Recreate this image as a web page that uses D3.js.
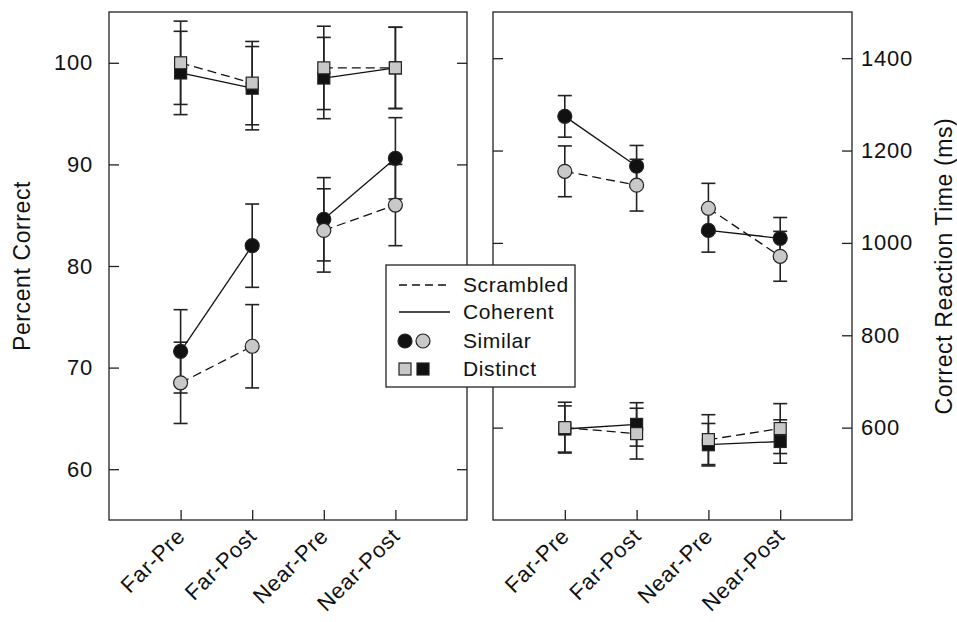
<!DOCTYPE html>
<html>
<head>
<meta charset="utf-8">
<script src="https://cdn.jsdelivr.net/npm/d3@7"></script>
<style>
    body { margin: 0; background: #fff; }
    svg { display: block; font-family: 'Liberation Sans', Arial, sans-serif; }
</style>
</head>
<body>
<svg width="957" height="622"></svg>
<script>
const conditions = ['Far-Pre', 'Far-Post', 'Near-Pre', 'Near-Post'];

// ---- Percent correct (left panel)
const pcSimilarScrambled = [68.5, 72.1, 83.5, 86.0];
const pcSimilarScrambledErr = [4.0, 4.1, 4.1, 4.0];
const pcSimilarCoherent = [71.6, 82.0, 84.6, 90.6];
const pcSimilarCoherentErr = [4.1, 4.1, 4.1, 4.0];
const pcDistinctScrambled = [100.0, 98.0, 99.5, 99.5];
const pcDistinctScrambledErr = [4.1, 4.1, 4.1, 4.0];
const pcDistinctCoherent = [99.0, 97.5, 98.5, 99.5];
const pcDistinctCoherentErr = [4.1, 4.1, 4.0, 4.0];

// ---- Correct reaction time, ms (right panel)
const rtSimilarScrambled = [1155, 1125, 1075, 971];
const rtSimilarScrambledErr = [55, 56, 54, 54];
const rtSimilarCoherent = [1274, 1166, 1027, 1010];
const rtSimilarCoherentErr = [45, 45, 47, 45];
const rtDistinctScrambled = [600, 587, 574, 598];
const rtDistinctScrambledErr = [55, 55, 54, 54];
const rtDistinctCoherent = [597, 607, 563, 570];
const rtDistinctCoherentErr = [50, 47, 46, 47];

const pcTicks = [60, 70, 80, 90, 100];
const rtTicks = [600, 800, 1000, 1200, 1400];

const GRAY = '#c8c8c8';
const BLACK = '#111';

const svg = d3.select('svg');
const plotTop = 12, plotBottom = 520;

function series(values, errs, shape, fill, dashed) {
    return { shape, fill, dashed, points: values.map((v, i) => ({ c: conditions[i], v, e: errs[i] })) };
}

// coherent first so scrambled markers end up on top
const panels = [
    {
        left: 109, right: 467,
        domain: [55, 105], ticks: pcTicks, labelSide: 'left',
        title: 'Percent Correct',
        series: [
            series(pcSimilarCoherent, pcSimilarCoherentErr, 'circle', BLACK, false),
            series(pcDistinctCoherent, pcDistinctCoherentErr, 'square', BLACK, false),
            series(pcSimilarScrambled, pcSimilarScrambledErr, 'circle', GRAY, true),
            series(pcDistinctScrambled, pcDistinctScrambledErr, 'square', GRAY, true)
        ]
    },
    {
        left: 493, right: 852,
        domain: [400, 1500], ticks: rtTicks, labelSide: 'right',
        title: 'Correct Reaction Time (ms)',
        series: [
            series(rtSimilarCoherent, rtSimilarCoherentErr, 'circle', BLACK, false),
            series(rtDistinctCoherent, rtDistinctCoherentErr, 'square', BLACK, false),
            series(rtSimilarScrambled, rtSimilarScrambledErr, 'circle', GRAY, true),
            series(rtDistinctScrambled, rtDistinctScrambledErr, 'square', GRAY, true)
        ]
    }
];

function drawMarker(sel, shape, fill, x, y) {
    if (shape === 'circle') {
        sel.append('circle')
            .attr('cx', x).attr('cy', y).attr('r', 7)
            .attr('fill', fill).attr('stroke', '#222').attr('stroke-width', 1.2);
    } else {
        sel.append('rect')
            .attr('x', x - 6).attr('y', y - 6).attr('width', 12).attr('height', 12)
            .attr('fill', fill).attr('stroke', '#222').attr('stroke-width', 1.2);
    }
}

panels.forEach(p => {
    const x = d3.scalePoint().domain(conditions).range([p.left, p.right]).padding(1);
    const y = d3.scaleLinear().domain(p.domain).range([plotBottom, plotTop]);
    const g = svg.append('g');

    // ---- Eixos (ticks pointing inward on all sides)
    const leftAxis = d3.axisLeft(y).tickValues(p.ticks).tickSize(-10).tickSizeOuter(0)
        .tickPadding(16).tickFormat(d3.format('d'));
    const rightAxis = d3.axisRight(y).tickValues(p.ticks).tickSize(-10).tickSizeOuter(0)
        .tickPadding(9).tickFormat(d3.format('d'));
    if (p.labelSide === 'left') rightAxis.tickFormat('');
    else leftAxis.tickFormat('');

    const yAxes = g.append('g');
    yAxes.append('g').attr('transform', `translate(${p.left},0)`).call(leftAxis);
    yAxes.append('g').attr('transform', `translate(${p.right},0)`).call(rightAxis);
    yAxes.selectAll('.tick text').attr('font-size', '22px').attr('letter-spacing', '0.8px');

    const xAxis = g.append('g')
        .attr('transform', `translate(0,${plotBottom})`)
        .call(d3.axisBottom(x).tickSize(-10).tickSizeOuter(0));

    xAxis.selectAll('text')
        .attr('text-anchor', 'end')
        .attr('y', 0).attr('dy', '0.35em')
        .attr('font-size', '22px')
        .attr('letter-spacing', '0.8px')
        .attr('transform', `translate(0,12) rotate(-45)`);

    g.selectAll('.domain').remove();
    g.selectAll('.tick line').attr('stroke', '#222').attr('stroke-width', 1.3);
    g.selectAll('.tick text').attr('fill', '#111');

    // frame
    g.append('rect')
        .attr('x', p.left).attr('y', plotTop)
        .attr('width', p.right - p.left).attr('height', plotBottom - plotTop)
        .attr('fill', 'none').attr('stroke', '#222').attr('stroke-width', 1.3);

    // axis title
    const tx = p.labelSide === 'left' ? 22 : 944;
    g.append('text')
        .attr('transform', `translate(${tx},${(plotTop + plotBottom) / 2}) rotate(-90)`)
        .attr('text-anchor', 'middle')
        .attr('dy', '0.35em')
        .attr('font-size', '23px')
        .attr('letter-spacing', '0.6px')
        .attr('fill', '#111')
        .text(p.title);

    // error bars
    p.series.forEach(s => {
        s.points.forEach(d => {
            const cx = x(d.c), y1 = y(d.v + d.e), y2 = y(d.v - d.e);
            g.append('line').attr('x1', cx).attr('x2', cx).attr('y1', y1).attr('y2', y2)
                .attr('stroke', '#222').attr('stroke-width', 1.6);
            [y1, y2].forEach(cy => {
                g.append('line').attr('x1', cx - 7).attr('x2', cx + 7).attr('y1', cy).attr('y2', cy)
                    .attr('stroke', '#222').attr('stroke-width', 1.6);
            });
        });
    });

    // lines: Far pair and Near pair are joined separately
    const line = d3.line().x(d => x(d.c)).y(d => y(d.v));
    p.series.forEach(s => {
        [s.points.slice(0, 2), s.points.slice(2, 4)].forEach(seg => {
            g.append('path')
                .datum(seg)
                .attr('d', line)
                .attr('fill', 'none')
                .attr('stroke', '#111')
                .attr('stroke-width', 1.3)
                .attr('stroke-dasharray', s.dashed ? '9,5' : null);
        });
    });

    // markers
    p.series.forEach(s => {
        s.points.forEach(d => drawMarker(g, s.shape, s.fill, x(d.c), y(d.v)));
    });
});

// ---- Legenda
const legend = svg.append('g');
legend.append('rect')
    .attr('x', 386).attr('y', 265).attr('width', 189).attr('height', 122)
    .attr('fill', '#fff').attr('stroke', '#222').attr('stroke-width', 1.3);

const legendRows = [
    { label: 'Scrambled', kind: 'dash' },
    { label: 'Coherent', kind: 'solid' },
    { label: 'Similar', kind: 'circle' },
    { label: 'Distinct', kind: 'square' }
];
const rowY = [285, 312, 341, 369];

legendRows.forEach((r, i) => {
    const ly = rowY[i];
    if (r.kind === 'dash' || r.kind === 'solid') {
        legend.append('line')
            .attr('x1', 399).attr('x2', 450).attr('y1', ly).attr('y2', ly)
            .attr('stroke', '#111').attr('stroke-width', 1.3)
            .attr('stroke-dasharray', r.kind === 'dash' ? '8,5' : null);
    } else if (r.kind === 'circle') {
        drawMarker(legend, 'circle', BLACK, 405, ly);
        drawMarker(legend, 'circle', GRAY, 423, ly);
    } else {
        drawMarker(legend, 'square', GRAY, 405, ly);
        drawMarker(legend, 'square', BLACK, 423, ly);
    }
    legend.append('text')
        .attr('x', 463).attr('y', ly).attr('dy', '0.35em')
        .attr('font-size', '21px')
        .attr('letter-spacing', '0.6px')
        .attr('fill', '#111')
        .text(r.label);
});
</script>
</body>
</html>
